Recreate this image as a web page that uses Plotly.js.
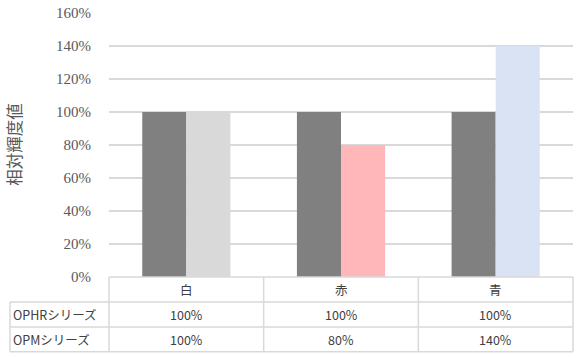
<!DOCTYPE html>
<html><head><meta charset="utf-8">
<script src="https://cdn.plot.ly/plotly-3.0.1.min.js"></script>
<style>html,body{margin:0;padding:0;background:#fff}#chart{width:580px;height:358px}</style>
</head><body><div id="chart"></div>
<script>
const categories = ['白', '赤', '青'];
const seriesNames = ['OPHRシリーズ', 'OPMシリーズ'];
const ophr = [1.00, 1.00, 1.00];
const opm = [1.00, 0.80, 1.40];
const opmColors = ['#d9d9d9', '#ffb7b9', '#dae3f3'];
const yTitle = '相対輝度値';

const W = 580, H = 358;
const L = 109, R = 7, T = 13, B = 80.5;
const pw = W - L - R, ph = H - T - B;
const px = v => (v - L) / pw;
const py = v => (H - B - v) / ph;

const traces = [
  {type:'bar', x:categories, y:ophr, name:seriesNames[0], marker:{color:'#808080'}},
  {type:'bar', x:categories, y:opm, name:seriesNames[1], marker:{color:opmColors}}
];

const lineColor = '#d9d9d9';
const shapes = [];
const rowY = [277.5, 302.5, 327.5, 352.5].map(py);
const tableLeft = px(10);
shapes.push({type:'line', xref:'paper', yref:'paper', x0:0, x1:1, y0:rowY[0], y1:rowY[0], line:{color:lineColor, width:1.5}});
for (let r = 1; r < rowY.length; r++) {
  shapes.push({type:'line', xref:'paper', yref:'paper', x0:tableLeft, x1:1, y0:rowY[r], y1:rowY[r], line:{color:lineColor, width:1.5}});
}
shapes.push({type:'line', xref:'paper', yref:'paper', x0:tableLeft, x1:tableLeft, y0:rowY[1], y1:rowY[3], line:{color:lineColor, width:1.5}});
for (let c = 0; c <= categories.length; c++) {
  const xv = c / categories.length;
  shapes.push({type:'line', xref:'paper', yref:'paper', x0:xv, x1:xv, y0:rowY[0], y1:rowY[3], line:{color:lineColor, width:1.5}});
}

const annotations = [];
const pct = v => Math.round(v * 100) + '%';
[ophr, opm].forEach((arr, r) => {
  const yc = (rowY[r+1] + rowY[r+2]) / 2;
  annotations.push({xref:'paper', yref:'paper', x:px(11), y:yc, xanchor:'left', yanchor:'middle', text:seriesNames[r], showarrow:false,
    font:{family:'Noto Sans CJK JP', size:12.5, color:'#404040'}});
  arr.forEach((v, i) => {
    annotations.push({xref:'paper', yref:'paper', x:(i + 0.5) / categories.length, y:yc, xanchor:'center', yanchor:'middle', text:pct(v), showarrow:false,
      font:{family:'Noto Sans CJK JP', size:12.5, color:'#404040'}});
  });
});
categories.forEach((c, i) => {
  annotations.push({xref:'paper', yref:'paper', x:(i + 0.5) / categories.length, y:(rowY[0] + rowY[1]) / 2, xanchor:'center', yanchor:'middle', text:c, showarrow:false,
    font:{family:'Noto Sans CJK JP', size:12.5, color:'#404040'}});
});
annotations.push({xref:'paper', yref:'paper', x:px(14), y:py(145), xanchor:'center', yanchor:'middle', textangle:-90, text:yTitle, showarrow:false,
  font:{family:'Noto Sans CJK JP', size:16.5, color:'#595959'}});

const layout = {
  width:W, height:H,
  margin:{l:L, r:R, t:T, b:B},
  showlegend:false,
  barmode:'group', bargap:0.43, bargroupgap:0,
  xaxis:{range:[-0.5, 2.5], showticklabels:false, showgrid:false, zeroline:false, showline:false},
  yaxis:{range:[0, 1.6], dtick:0.2, tickformat:'.0%', gridcolor:'#d9d9d9', gridwidth:1.5, zeroline:false,
    ticks:'outside', ticklen:14, tickcolor:'rgba(0,0,0,0)',
    tickfont:{family:'Liberation Serif', size:15, color:'#595959'}},
  shapes:shapes,
  annotations:annotations
};
Plotly.newPlot('chart', traces, layout, {staticPlot:true});
</script></body></html>
